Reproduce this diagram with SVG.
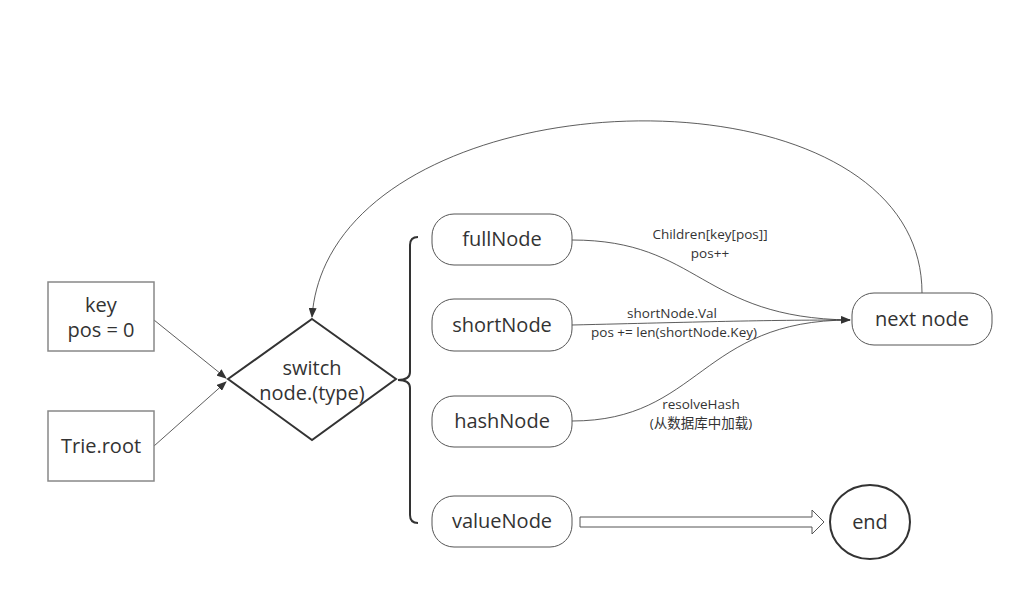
<svg xmlns="http://www.w3.org/2000/svg" width="1025" height="589" viewBox="0 0 1025 589">
<style>
.t{font-family:"Open Sans","Noto Sans","Noto Sans CJK SC",sans-serif;font-size:20px;fill:#333;text-anchor:middle}
.l{font-family:"Open Sans","Noto Sans","Noto Sans CJK SC",sans-serif;font-size:13.5px;fill:#333;text-anchor:middle}
.box{fill:#fff;stroke:#888;stroke-width:1.5}
.pill{fill:#fff;stroke:#555;stroke-width:1}
.c{fill:none;stroke:#333;stroke-width:0.8}
</style>
<defs>
<marker id="a" markerWidth="10" markerHeight="8" refX="9" refY="4" orient="auto" markerUnits="userSpaceOnUse" viewBox="0 0 10 8">
<path d="M0,0 L10,4 L0,8 z" fill="#333"/>
</marker>
</defs>
<rect width="1025" height="589" fill="#fff"/>
<g id="connectors">
<path class="c" d="M154,320 L226,378" marker-end="url(#a)"/>
<path class="c" d="M154,446 L226,382" marker-end="url(#a)"/>
<path class="c" d="M922,293 C922,50 330,70 312,317" marker-end="url(#a)"/>
<path class="c" d="M572,240 C700,240 700,318 850,320" marker-end="url(#a)"/>
<path class="c" d="M572,325 C700,322 760,320 850,320"/>
<path class="c" d="M572,421 C700,421 700,320 850,320"/>
<path d="M580,517 L812,517 L812,510 L824,522 L812,534 L812,527 L580,527 Z" fill="#fff" stroke="#555" stroke-width="1"/>
<path d="M418,237 Q410,237 410,245 L410,372 Q410,380 398,380 Q410,380 410,388 L410,515 Q410,523 418,523" fill="none" stroke="#333" stroke-width="2"/>
<text class="l" x="710" y="239">Children[key[pos]]</text>
<text class="l" x="710" y="258">pos++</text>
<text class="l" x="672" y="318">shortNode.Val</text>
<text class="l" x="674" y="337">pos += len(shortNode.Key)</text>
<text class="l" x="701" y="409">resolveHash</text>
<text class="l" x="701" y="428">(从数据库中加载)</text>
</g>
<g id="key"><rect class="box" x="48" y="282" width="106" height="69"/><text class="t" x="101" y="312">key</text><text class="t" x="101" y="337">pos = 0</text></g>
<g id="trieroot"><rect class="box" x="48" y="411" width="106" height="70"/><text class="t" x="101" y="453">Trie.root</text></g>
<g id="switch"><path d="M312,319 L396,379 L312,440 L228,379 Z" fill="#fff" stroke="#333" stroke-width="2"/><text class="t" x="312" y="375">switch</text><text class="t" x="312" y="400">node.(type)</text></g>
<g id="fullNode"><rect class="pill" x="432" y="214" width="140" height="51" rx="22"/><text class="t" x="502" y="246">fullNode</text></g>
<g id="shortNode"><rect class="pill" x="432" y="299" width="140" height="52" rx="22"/><text class="t" x="502" y="332">shortNode</text></g>
<g id="hashNode"><rect class="pill" x="432" y="396" width="140" height="51" rx="22"/><text class="t" x="502" y="428">hashNode</text></g>
<g id="valueNode"><rect class="pill" x="432" y="496" width="140" height="51" rx="22"/><text class="t" x="502" y="528">valueNode</text></g>
<g id="nextNode"><rect class="pill" x="852" y="293" width="140" height="52" rx="22"/><text class="t" x="922" y="326">next node</text></g>
<g id="end"><ellipse cx="870" cy="522" rx="40" ry="37" fill="#fff" stroke="#333" stroke-width="2"/><text class="t" x="870" y="529">end</text></g>
</svg>
